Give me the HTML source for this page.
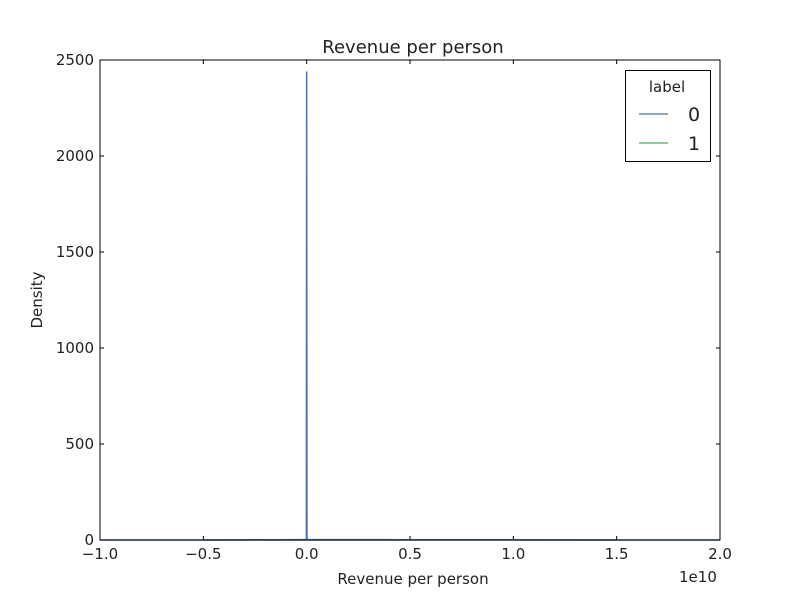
<!DOCTYPE html>
<html><head><meta charset="utf-8"><style>body{margin:0;background:#fff}svg text{font-family:"DejaVu Sans","Liberation Sans",sans-serif;fill:#222}</style></head>
<body>
<svg id="chart" width="800" height="600" xmlns="http://www.w3.org/2000/svg">
<rect width="800" height="600" fill="#fff"/>
<text x="413" y="53" font-size="18" text-anchor="middle">Revenue per person</text>
<g id="ticks"></g>
<g id="series"></g>
<rect x="100" y="60" width="620" height="480" fill="none" stroke="#000" stroke-width="1"/>
<text x="413" y="584" font-size="15" text-anchor="middle">Revenue per person</text>
<text x="679" y="582" font-size="15">1e10</text>
<text transform="translate(42,300) rotate(-90)" font-size="15" text-anchor="middle">Density</text>
<g>
<rect x="625.5" y="70.5" width="85" height="91" fill="#fff" stroke="#000"/>
<text x="667" y="92" font-size="15" text-anchor="middle">label</text>
<line x1="639" y1="114" x2="668" y2="114" stroke="#4c72b0" stroke-width="1.3"/>
<text x="688" y="121" font-size="19">0</text>
<line x1="639" y1="143" x2="668" y2="143" stroke="#55a868" stroke-width="1.3"/>
<text x="688" y="150" font-size="19">1</text>
</g>
</svg>
<script>
const xTicks=[-1.0,-0.5,0.0,0.5,1.0,1.5,2.0];
const xTickLabels=["−1.0","−0.5","0.0","0.5","1.0","1.5","2.0"];
const yTicks=[0,500,1000,1500,2000,2500];
const s0x=[-1.0,-0.002,-0.0015,0,0.0015,0.002,2.0];
const s0y=[0,0,0,2440,0,0,0];
const s1x=[-0.5,0,0.5,1.0,1.25,1.5];
const s1y=[0.3,2,1.5,1,0.5,0.2];
const X=v=>100+(v+1)/3*620, Y=v=>540-v/2500*480;
const NS="http://www.w3.org/2000/svg";
const tg=document.getElementById('ticks'), sg=document.getElementById('series');
function mk(t,a,p){const e=document.createElementNS(NS,t);for(const k in a)e.setAttribute(k,a[k]);p.appendChild(e);return e;}
xTicks.forEach((v,i)=>{const x=X(v);
const l1=mk('line',{x1:x,x2:x,y1:540,y2:536,stroke:'#000'},tg);


const l2=mk('line',{x1:x,x2:x,y1:60,y2:64,stroke:'#000'},tg);


const t=mk('text',{x:x,y:559,'font-size':15,'text-anchor':'middle'},tg);t.textContent=xTickLabels[i];

});
yTicks.forEach(v=>{const y=Y(v);
const l1=mk('line',{x1:100,x2:104,y1:y,y2:y,stroke:'#000'},tg);


const l2=mk('line',{x1:716,x2:720,y1:y,y2:y,stroke:'#000'},tg);


const t=mk('text',{x:94,y:y+5,'font-size':15,'text-anchor':'end'},tg);t.textContent=v;

});
function line(xs,ys,c,name){const d=xs.map((v,i)=>(i?'L':'M')+X(v).toFixed(2)+' '+Y(ys[i]).toFixed(2)).join(' ');
const p=mk('path',{d:d,fill:'none',stroke:c,'stroke-width':1.5},sg);

}
line(s1x,s1y,'#55a868','series-1-line');
line(s0x,s0y,'#4c72b0','series-0-line');
</script>
</body></html>
